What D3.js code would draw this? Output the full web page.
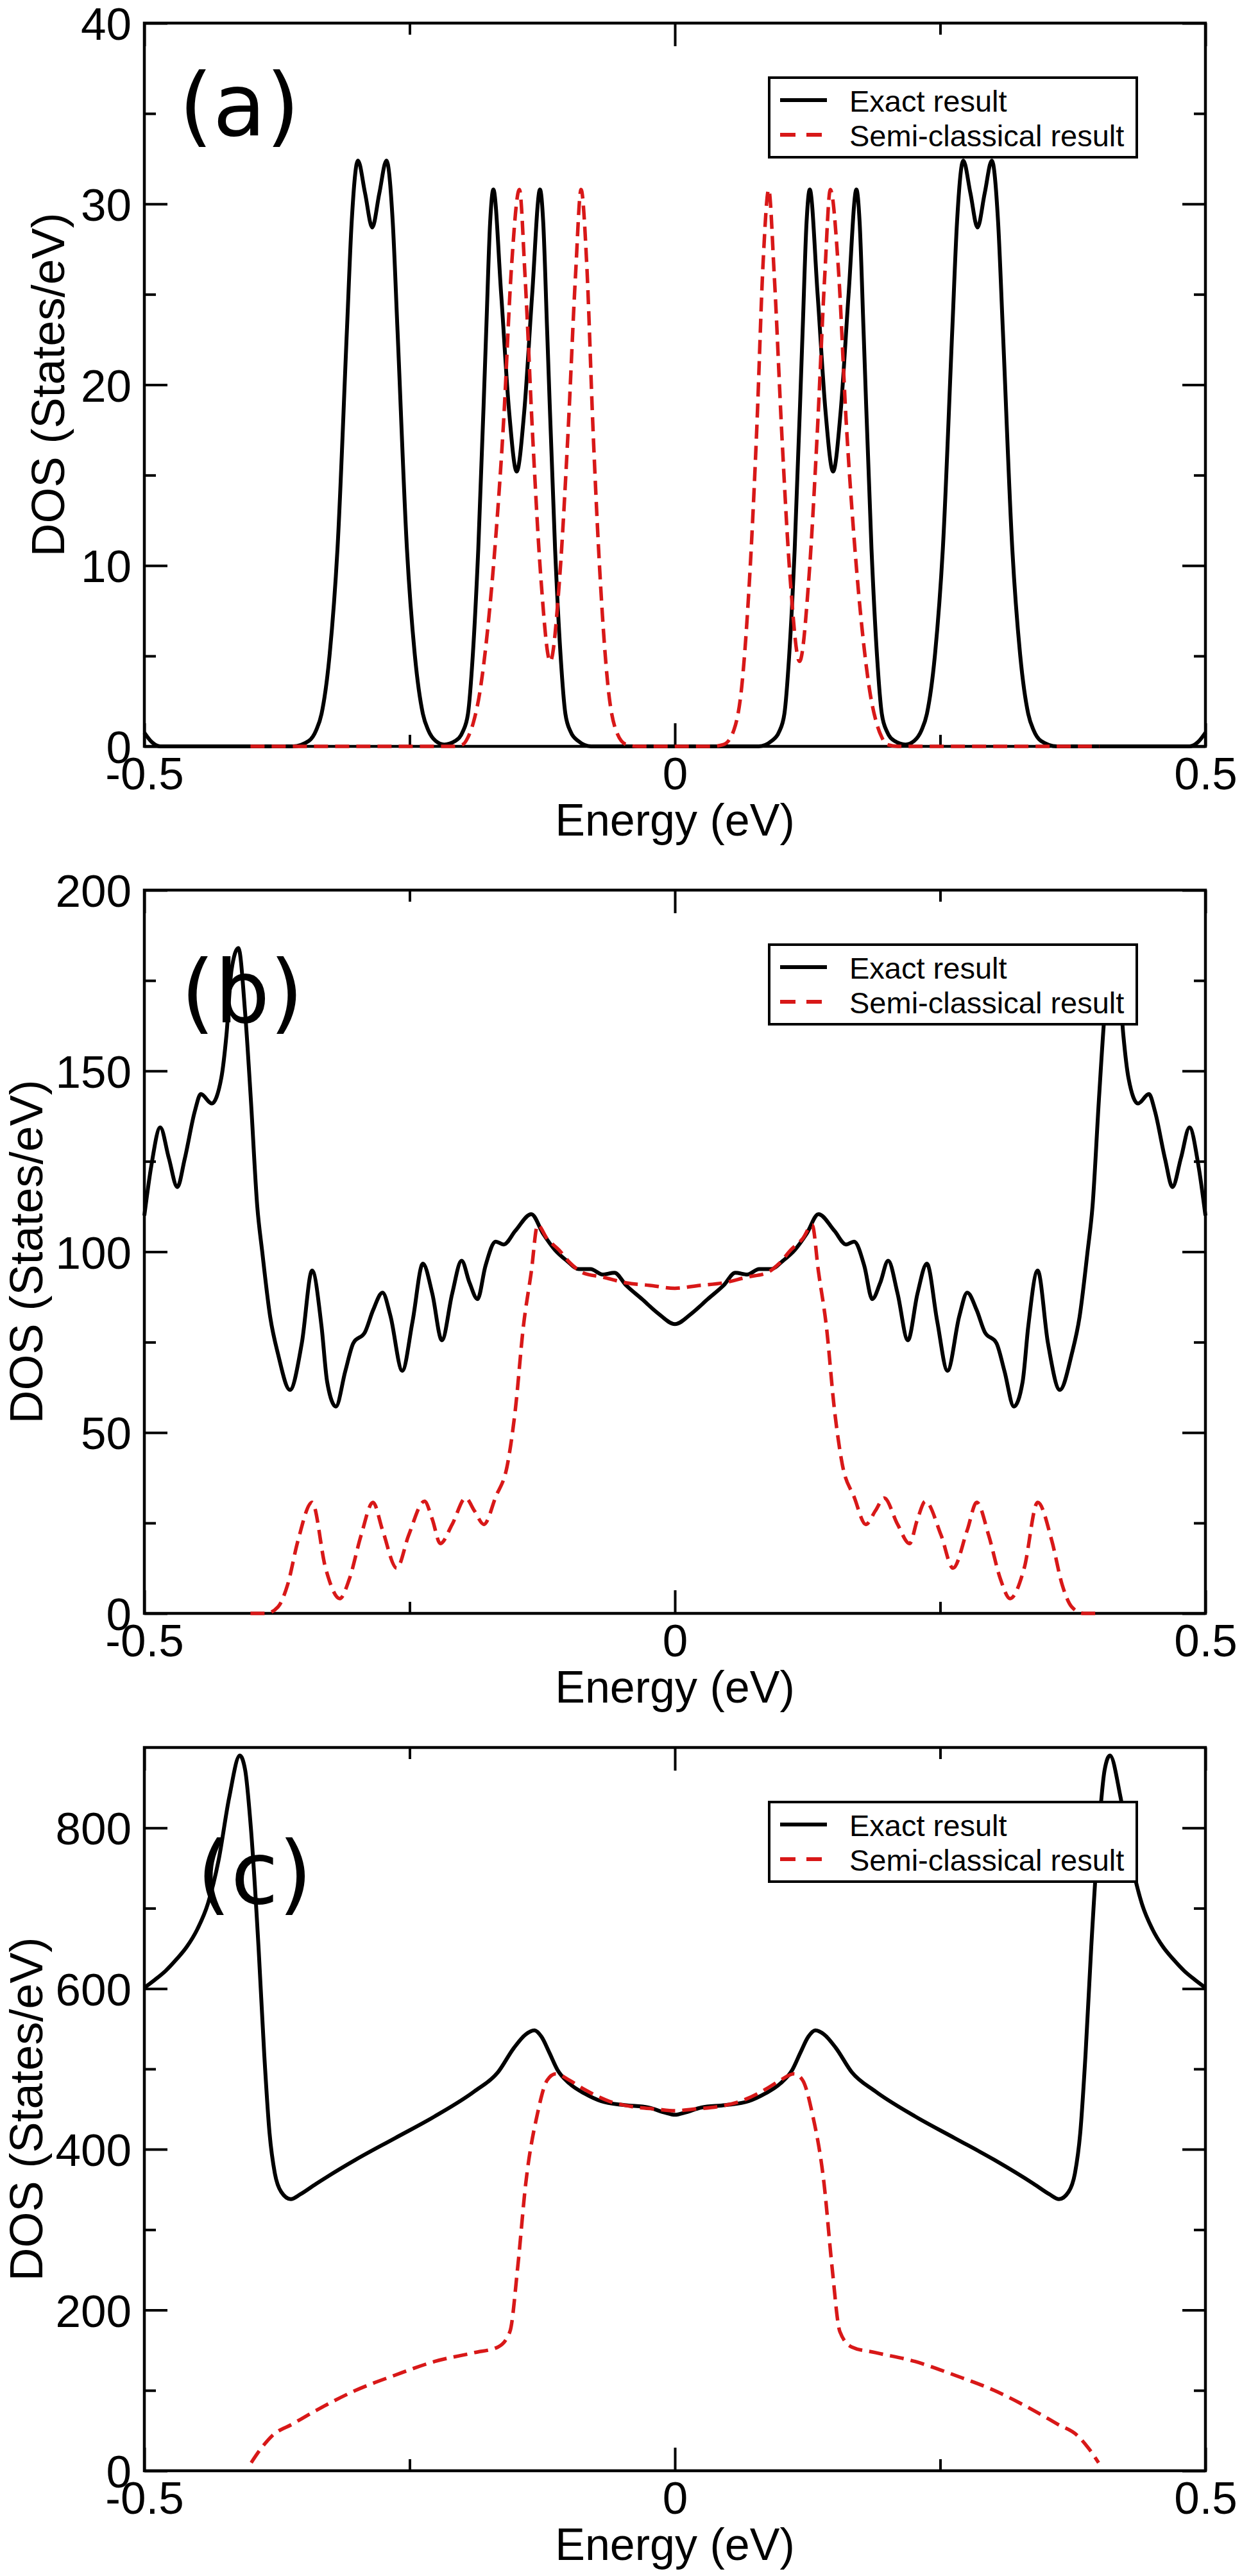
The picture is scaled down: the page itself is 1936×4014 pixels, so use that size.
<!DOCTYPE html>
<meta charset="utf-8">
<script src="https://d3js.org/d3.v7.min.js"></script>
<style>
body { margin: 0; background: #ffffff; }
</style>
<body>
<script>

// ---- data (energy in eV, DOS in States/eV) ----

// panel (a)
var aExactE = [-0.5, -0.493, -0.485, -0.36, -0.345, -0.338, -0.333, -0.3255, -0.318, -0.3091, -0.3046, -0.2987, -0.292, -0.2852, -0.2785, -0.2718, -0.2659, -0.2614, -0.2525, -0.245, -0.2375, -0.2325, -0.2255, -0.2174, -0.207, -0.2, -0.195, -0.1905, -0.1853, -0.1778, -0.1741, -0.1711, -0.1637, -0.1562, -0.1491, -0.142, -0.1345, -0.1271, -0.1241, -0.1204, -0.1129, -0.1077, -0.1032, -0.0982, -0.0912, -0.079,
  0.079, 0.0912, 0.0982, 0.1032, 0.1077, 0.1129, 0.1204, 0.1241, 0.1271, 0.1345, 0.142, 0.1491, 0.1562, 0.1637, 0.1711, 0.1741, 0.1778, 0.1853, 0.1905, 0.195, 0.2, 0.207, 0.2174, 0.2255, 0.2325, 0.2375, 0.245, 0.2525, 0.2614, 0.2659, 0.2718, 0.2785, 0.2852, 0.292, 0.2987, 0.3046, 0.3091, 0.318, 0.3255, 0.333, 0.338, 0.345, 0.36, 0.485, 0.493, 0.5];
var aExactDos = [0.76, 0.24, 0, 0, 0.3, 0.9, 1.8, 5, 10.9, 23, 29, 32.4, 30.6, 28.7, 30.6, 32.4, 29, 23, 10.9, 5, 1.8, 0.9, 0.3, 0.1, 0.3, 0.8, 1.8, 5, 10.9, 23, 29, 30.8, 25, 18.5, 15.2, 18.5, 25, 30.8, 29, 23, 10.9, 5, 1.8, 0.8, 0.3, 0,
  0, 0.3, 0.8, 1.8, 5, 10.9, 23, 29, 30.8, 25, 18.5, 15.2, 18.5, 25, 30.8, 29, 23, 10.9, 5, 1.8, 0.8, 0.3, 0.1, 0.3, 0.9, 1.8, 5, 10.9, 23, 29, 32.4, 30.6, 28.7, 30.6, 32.4, 29, 23, 10.9, 5, 1.8, 0.9, 0.3, 0, 0, 0.24, 0.76];
var aSemiE = [-0.4, -0.21, -0.2, -0.195, -0.19, -0.1838, -0.1764, -0.1689, -0.1614, -0.154, -0.1465, -0.1413, -0.1339, -0.1264, -0.1175, -0.1085, -0.101, -0.0936, -0.0884, -0.0831, -0.0772, -0.0705, -0.063, -0.0556, -0.0459, -0.035,
  0.035, 0.0459, 0.0556, 0.063, 0.0705, 0.0772, 0.0831, 0.0884, 0.0936, 0.101, 0.1085, 0.1175, 0.1264, 0.1339, 0.1413, 0.1465, 0.154, 0.1614, 0.1689, 0.1764, 0.1838, 0.19, 0.195, 0.2, 0.21, 0.4];
var aSemiDos = [0, 0, 0.1, 0.5, 1.3, 3, 6.5, 11.5, 18, 26.5, 30.8, 26.1, 17, 9.4, 4.7, 9.4, 17, 26.1, 30.8, 26.7, 17.6, 9.4, 3.3, 0.9, 0.1, 0,
  0, 0.1, 0.9, 3.3, 9.4, 17.6, 26.7, 30.8, 26.1, 17, 9.4, 4.7, 9.4, 17, 26.1, 30.8, 26.5, 18, 11.5, 6.5, 3, 1.3, 0.5, 0.1, 0, 0];

// panel (b)
var bExactE = [-0.5, -0.4933, -0.485, -0.477, -0.4689, -0.462, -0.4523, -0.4468, -0.4365, -0.4275, -0.4226, -0.4178, -0.4114, -0.405, -0.3996, -0.3936, -0.3889, -0.3814, -0.374, -0.3628, -0.3516, -0.3419, -0.333, -0.3277, -0.3195, -0.3106, -0.3031, -0.292, -0.2845, -0.2755, -0.2681, -0.2569, -0.2472, -0.2375, -0.2286, -0.2196, -0.2099, -0.201, -0.1935, -0.186, -0.1786, -0.1689, -0.1614, -0.1503, -0.1353, -0.1242, -0.113, -0.1018, -0.0906, -0.0794, -0.0682, -0.057, -0.0459, -0.031, -0.016, 0,
  0.016, 0.031, 0.0459, 0.057, 0.0682, 0.0794, 0.0906, 0.1018, 0.113, 0.1242, 0.1353, 0.1503, 0.1614, 0.1689, 0.1786, 0.186, 0.1935, 0.201, 0.2099, 0.2196, 0.2286, 0.2375, 0.2472, 0.2569, 0.2681, 0.2755, 0.2845, 0.292, 0.3031, 0.3106, 0.3195, 0.3277, 0.333, 0.3419, 0.3516, 0.3628, 0.374, 0.3814, 0.3889, 0.3936, 0.3996, 0.405, 0.4114, 0.4178, 0.4226, 0.4275, 0.4365, 0.4468, 0.4523, 0.462, 0.4689, 0.477, 0.485, 0.4933, 0.5];
var bExactDos = [110, 124, 134.4, 126, 117.9, 125.6, 139, 143.6, 141, 148, 160, 178, 184, 166, 142, 112.6, 100, 82, 71.7, 61.8, 74.7, 94.8, 79.3, 64, 57.2, 67, 74.7, 77.8, 83.8, 88.7, 82.3, 67.1, 80.8, 96.7, 88.4, 75.5, 88.4, 97.5, 91.4, 86.9, 96, 102.8, 102, 105.8, 110.4, 105, 100.5, 97.5, 95.2, 95.2, 93.7, 94.2, 90.7, 86.9, 83, 80,
  83, 86.9, 90.7, 94.2, 93.7, 95.2, 95.2, 97.5, 100.5, 105, 110.4, 105.8, 102, 102.8, 96, 86.9, 91.4, 97.5, 88.4, 75.5, 88.4, 96.7, 80.8, 67.1, 82.3, 88.7, 83.8, 77.8, 74.7, 67, 57.2, 64, 79.3, 94.8, 74.7, 61.8, 71.7, 82, 100, 112.6, 142, 166, 184, 178, 160, 148, 141, 143.6, 139, 125.6, 117.9, 126, 134.4, 124, 110];
var bSemiE = [-0.4, -0.3852, -0.374, -0.365, -0.3553, -0.3419, -0.3292, -0.3158, -0.3069, -0.2957, -0.2845, -0.2755, -0.2621, -0.2509, -0.236, -0.2286, -0.2211, -0.2099, -0.1972, -0.189, -0.18, -0.1689, -0.1577, -0.1503, -0.1428, -0.1353, -0.1294, -0.1204, -0.1093, -0.0981, -0.0869, -0.0682, -0.0459, -0.0235, 0,
  0.0235, 0.0459, 0.0682, 0.0869, 0.0981, 0.1093, 0.1204, 0.1294, 0.1353, 0.1428, 0.1503, 0.1577, 0.1689, 0.18, 0.189, 0.1972, 0.2099, 0.2211, 0.2286, 0.236, 0.2509, 0.2621, 0.2755, 0.2845, 0.2957, 0.3069, 0.3158, 0.3292, 0.3419, 0.3553, 0.365, 0.374, 0.3852, 0.4];
var bSemiDos = [0, 0, 1.8, 7.9, 20, 30.7, 12.5, 4.1, 9.4, 21.6, 30.7, 23, 12.5, 21.6, 31, 26, 19.3, 24.6, 31.9, 28.4, 24.6, 32.2, 41.3, 56.5, 79.3, 94.5, 107.4, 103.6, 100.5, 96.7, 94.2, 93, 91.4, 90.7, 89.9,
  90.7, 91.4, 93, 94.2, 96.7, 100.5, 103.6, 107.4, 94.5, 79.3, 56.5, 41.3, 32.2, 24.6, 28.4, 31.9, 24.6, 19.3, 26, 31, 21.6, 12.5, 23, 30.7, 21.6, 9.4, 4.1, 12.5, 30.7, 20, 7.9, 1.8, 0, 0];

// panel (c)
var cExactE = [-0.5, -0.49, -0.48, -0.47, -0.46, -0.45, -0.44, -0.43, -0.42, -0.41, -0.405, -0.3996, -0.3924, -0.387, -0.382, -0.377, -0.371, -0.362, -0.353, -0.3382, -0.3009, -0.2636, -0.2263, -0.189, -0.1667, -0.1518, -0.1406, -0.1324, -0.1257, -0.1182, -0.1107, -0.0995, -0.0846, -0.0697, -0.0474, -0.025, -0.0101, 0,
  0.0101, 0.025, 0.0474, 0.0697, 0.0846, 0.0995, 0.1107, 0.1182, 0.1257, 0.1324, 0.1406, 0.1518, 0.1667, 0.189, 0.2263, 0.2636, 0.3009, 0.3382, 0.353, 0.362, 0.371, 0.377, 0.382, 0.387, 0.3924, 0.3996, 0.405, 0.41, 0.42, 0.43, 0.44, 0.45, 0.46, 0.47, 0.48, 0.49, 0.5];
var cExactDos = [601, 611, 622, 636, 652, 674, 706, 760, 838, 890, 872, 800, 652, 518, 420, 370, 347, 338, 344, 357, 387, 414, 441, 472, 496, 526, 543, 548, 540, 520, 499, 482, 469, 460, 455, 452, 446, 443,
  446, 452, 455, 460, 469, 482, 499, 520, 540, 548, 543, 526, 496, 472, 441, 414, 387, 357, 344, 338, 347, 370, 420, 518, 652, 800, 872, 890, 838, 760, 706, 674, 652, 636, 622, 611, 601];
var cSemiE = [-0.3993, -0.3904, -0.3792, -0.3606, -0.3382, -0.3009, -0.2636, -0.2263, -0.189, -0.1667, -0.1555, -0.148, -0.1406, -0.1294, -0.1204, -0.1122, -0.0995, -0.0846, -0.0623, -0.0399, -0.0175, 0,
  0.0175, 0.0399, 0.0623, 0.0846, 0.0995, 0.1122, 0.1204, 0.1294, 0.1406, 0.148, 0.1555, 0.1667, 0.189, 0.2263, 0.2636, 0.3009, 0.3382, 0.3606, 0.3792, 0.3904, 0.3993];
var cSemiDos = [10, 27, 44, 58, 75, 100, 119, 136, 147, 154, 173, 255, 357, 445, 486, 494, 486, 474, 460, 453, 450, 448,
  450, 453, 460, 474, 486, 494, 486, 445, 357, 255, 173, 154, 147, 136, 119, 100, 75, 58, 44, 27, 10];

// axis ticks
var xMajor = [-0.5, 0, 0.5];
var xMinor = [-0.25, 0.25];
var aYMajor = [0, 10, 20, 30, 40], aYMinor = [5, 15, 25, 35];
var bYMajor = [0, 50, 100, 150, 200], bYMinor = [25, 75, 125, 175];
var cYMajor = [0, 200, 400, 600, 800], cYMinor = [100, 300, 500, 700];

var legendLabels = ["Exact result", "Semi-classical result"];

// ---- layout ----
var left = 225, right = 1879, plotH = 1127;
var red = "#d81818";

var panels = [
  {letter: "(a)", top: 36,   yMax: 40,  major: aYMajor, minor: aYMinor, exE: aExactE, exD: aExactDos, scE: aSemiE, scD: aSemiDos, lx: 279, ly: 175, ylabX: 100},
  {letter: "(b)", top: 1387, yMax: 200, major: bYMajor, minor: bYMinor, exE: bExactE, exD: bExactDos, scE: bSemiE, scD: bSemiDos, lx: 282, ly: 206, ylabX: 66},
  {letter: "(c)", top: 2723, yMax: 900, major: cYMajor, minor: cYMinor, exE: cExactE, exD: cExactDos, scE: cSemiE, scD: cSemiDos, lx: 307, ly: 243, ylabX: 66}
];

var svg = d3.select("body").append("svg")
    .attr("width", 1936)
    .attr("height", 4014);

var x = d3.scaleLinear().domain([-0.5, 0.5]).range([left, right]);

function styleAxis(g) {
  g.select(".domain").remove();
  g.selectAll("line").attr("stroke", "#000").attr("stroke-width", 4);
  g.attr("font-size", 71).attr("font-family", "'Liberation Sans', Arial, sans-serif");
  g.selectAll("text").attr("fill", "#000");
}

panels.forEach(function(p) {
  var g = svg.append("g").attr("transform", "translate(0," + p.top + ")");
  var y = d3.scaleLinear().domain([0, p.yMax]).range([plotH, 0]);

  // bottom axis with labels
  g.append("g")
    .attr("transform", "translate(0," + plotH + ")")
    .call(d3.axisBottom(x).tickValues(xMajor).tickSize(-36).tickSizeOuter(0).tickPadding(17)
      .tickFormat(function(d) { return String(d); }))
    .call(styleAxis);
  g.append("g")
    .attr("transform", "translate(0," + plotH + ")")
    .call(d3.axisBottom(x).tickValues(xMinor).tickSize(-18).tickSizeOuter(0).tickFormat(""))
    .call(styleAxis);
  // top axis, mirrored ticks
  g.append("g")
    .call(d3.axisTop(x).tickValues(xMajor).tickSize(-36).tickSizeOuter(0).tickFormat(""))
    .call(styleAxis);
  g.append("g")
    .call(d3.axisTop(x).tickValues(xMinor).tickSize(-18).tickSizeOuter(0).tickFormat(""))
    .call(styleAxis);

  // left axis with labels
  g.append("g")
    .attr("transform", "translate(" + left + ",0)")
    .call(d3.axisLeft(y).tickValues(p.major).tickSize(-36).tickSizeOuter(0).tickPadding(20))
    .call(styleAxis)
    .selectAll("text").attr("dy", "0.36em");
  g.append("g")
    .attr("transform", "translate(" + left + ",0)")
    .call(d3.axisLeft(y).tickValues(p.minor).tickSize(-18).tickSizeOuter(0).tickFormat(""))
    .call(styleAxis);
  // right axis
  g.append("g")
    .attr("transform", "translate(" + right + ",0)")
    .call(d3.axisRight(y).tickValues(p.major).tickSize(-36).tickSizeOuter(0).tickFormat(""))
    .call(styleAxis);
  g.append("g")
    .attr("transform", "translate(" + right + ",0)")
    .call(d3.axisRight(y).tickValues(p.minor).tickSize(-18).tickSizeOuter(0).tickFormat(""))
    .call(styleAxis);

  // frame
  g.append("rect")
    .attr("x", left).attr("y", 0)
    .attr("width", right - left).attr("height", plotH)
    .attr("fill", "none").attr("stroke", "#000").attr("stroke-width", 4.5);

  var line = d3.line()
    .x(function(d) { return x(d[0]); })
    .y(function(d) { return y(d[1]); })
    .curve(d3.curveMonotoneX);

  var exact = p.exE.map(function(e, i) { return [e, p.exD[i]]; });
  var semi = p.scE.map(function(e, i) { return [e, p.scD[i]]; });

  g.append("path")
    .datum(exact)
    .attr("fill", "none")
    .attr("stroke", "#000")
    .attr("stroke-width", 6)
    .attr("stroke-linejoin", "round")
    .attr("d", line);

  g.append("path")
    .datum(semi)
    .attr("fill", "none")
    .attr("stroke", red)
    .attr("stroke-width", 5.5)
    .attr("stroke-dasharray", "22,11")
    .attr("d", line);

  // panel letter
  g.append("text")
    .attr("x", p.lx).attr("y", p.ly)
    .attr("font-family", "'DejaVu Sans', sans-serif")
    .attr("font-size", 135)
    .text(p.letter);

  // axis titles
  g.append("text")
    .attr("transform", "translate(" + p.ylabX + "," + (plotH / 2) + ") rotate(-90)")
    .attr("text-anchor", "middle")
    .attr("font-family", "'Liberation Sans', Arial, sans-serif")
    .attr("font-size", 72)
    .text("DOS (States/eV)");

  g.append("text")
    .attr("x", (left + right) / 2).attr("y", plotH + 139)
    .attr("text-anchor", "middle")
    .attr("font-family", "'Liberation Sans', Arial, sans-serif")
    .attr("font-size", 70)
    .text("Energy (eV)");

  // legend
  var lg = g.append("g");
  lg.append("rect")
    .attr("x", 1199).attr("y", 85)
    .attr("width", 573).attr("height", 124)
    .attr("fill", "#fff").attr("stroke", "#000").attr("stroke-width", 4);
  lg.append("line")
    .attr("x1", 1216).attr("x2", 1289).attr("y1", 120).attr("y2", 120)
    .attr("stroke", "#000").attr("stroke-width", 6);
  lg.append("line")
    .attr("x1", 1216).attr("x2", 1281).attr("y1", 174).attr("y2", 174)
    .attr("stroke", red).attr("stroke-width", 6).attr("stroke-dasharray", "24,17");
  lg.selectAll("text.leg")
    .data(legendLabels)
    .enter().append("text")
    .attr("class", "leg")
    .attr("x", 1324)
    .attr("y", function(d, i) { return 138 + i * 54; })
    .attr("font-family", "'Liberation Sans', Arial, sans-serif")
    .attr("font-size", 47)
    .text(function(d) { return d; });
});

</script>
</body>
